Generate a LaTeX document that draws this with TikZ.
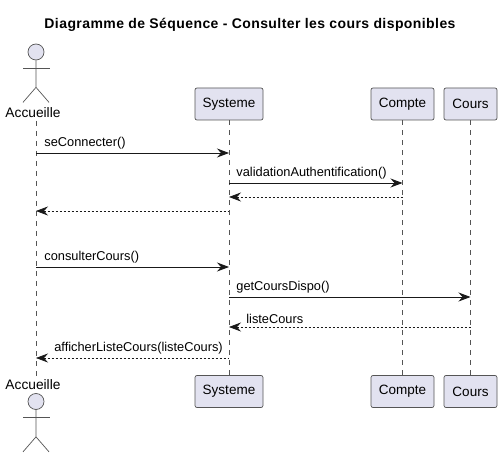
\documentclass[tikz,border=0pt]{standalone}
\usepackage{fontspec}
\setmainfont{Liberation Sans}
\usetikzlibrary{arrows.meta}
\definecolor{partfill}{HTML}{E2E2F0}
\definecolor{partline}{HTML}{555555}
\tikzset{
  partbox/.style={draw=partline,fill=partfill,rounded corners=2pt,line width=0.7pt,
    minimum height=32pt,inner sep=0pt,font=\fontsize{13.5}{16}\selectfont},
  actlabel/.style={inner sep=0pt,minimum height=16pt,minimum width=56pt,font=\fontsize{13.75}{16}\selectfont},
  acthead/.style={circle,draw=partline,fill=partfill,line width=0.7pt,minimum size=16pt,inner sep=0pt},
  actbody/.style={draw=partline,line width=0.7pt},
  lifeline/.style={draw=partline,line width=0.6pt,dash pattern=on 5pt off 5pt},
  msg/.style={draw=black!90,line width=0.9pt,-{Stealth[length=12pt,width=9pt,inset=4pt]}},
  ret/.style={draw=black!90,line width=0.7pt,dash pattern=on 2pt off 2pt,{Stealth[length=12pt,width=9pt,inset=4pt]}-},
  msgtext/.style={anchor=south west,inner sep=0pt,yshift=3pt,font=\fontsize{12.8}{15}\selectfont},
}
\begin{document}
\begin{tikzpicture}[x=1pt,y=-1pt]
  \useasboundingbox (0,0) rectangle (501,457);

  % Titre
  \node[inner sep=0pt,font=\fontsize{14}{16}\selectfont\bfseries\addfontfeature{LetterSpace=3}] (titre) at (250,25)
    {Diagramme de Séquence - Consulter les cours disponibles};

  % Participants
  \node[actlabel] (accT) at (33,113) {Accueille};
  \node[partbox,minimum width=68pt] (sysT) at (229,104) {Systeme};
  \node[partbox,minimum width=63pt] (comT) at (402.5,104) {Compte};
  \node[partbox,minimum width=53pt] (couT) at (470.5,104) {Cours};
  \node[actlabel] (accB) at (33,385) {Accueille};
  \node[partbox,minimum width=68pt] (sysB) at (229,391.5) {Systeme};
  \node[partbox,minimum width=63pt] (comB) at (402.5,391.5) {Compte};
  \node[partbox,minimum width=53pt] (couB) at (470.5,391.5) {Cours};

  % Lignes de vie
  \coordinate (accS) at (36,121);
  \coordinate (accE) at (36,376);
  \draw[lifeline] (accS) -- (accE);
  \draw[lifeline] (sysT.south) -- (sysB.north);
  \draw[lifeline] (comT.south) -- (comB.north);
  \draw[lifeline] (couT.south) -- (couB.north);

  % Acteur du haut
  \node[acthead] (headT) at (36,52) {};
  \draw[actbody] (headT.south) -- ++(0,27) coordinate (hipT) ++(-13,15) -- (hipT) -- ++(13,15);
  \draw[actbody] (23,68) -- (49.5,68);

  % Acteur du bas
  \node[acthead] (headB) at (36,401.5) {};
  \draw[actbody] (headB.south) -- ++(0,27) coordinate (hipB) ++(-13,15) -- (hipB) -- ++(13,15);
  \draw[actbody] (23,417.5) -- (49.5,417.5);

  % Messages
  \coordinate (m1) at (0,153);
  \coordinate (m2) at (0,183);
  \coordinate (m3) at (0,197);
  \coordinate (m4) at (0,211);
  \coordinate (m5) at (0,267);
  \coordinate (m6) at (0,297);
  \coordinate (m7) at (0,327);
  \coordinate (m8) at (0,358);
  \draw[msg] (accS |- m1) -- (sysT |- m1) node[msgtext,pos=0,xshift=8pt] {seConnecter()};
  \draw[msg] (sysT |- m2) -- (comT |- m2) node[msgtext,pos=0,xshift=7pt] {validationAuthentification()};
  \draw[ret] (sysT |- m3) -- (comT |- m3);
  \draw[ret] (accS |- m4) -- (sysT |- m4);
  \draw[msg] (accS |- m5) -- (sysT |- m5) node[msgtext,pos=0,xshift=8pt] {consulterCours()};
  \draw[msg] (sysT |- m6) -- (couT |- m6) node[msgtext,pos=0,xshift=7pt] {getCoursDispo()};
  \draw[ret] (sysT |- m7) -- (couT |- m7) node[msgtext,pos=0,xshift=17pt] {listeCours};
  \draw[ret] (accS |- m8) -- (sysT |- m8) node[msgtext,pos=0,xshift=18pt] {afficherListeCours(listeCours)};
\end{tikzpicture}
\end{document}
